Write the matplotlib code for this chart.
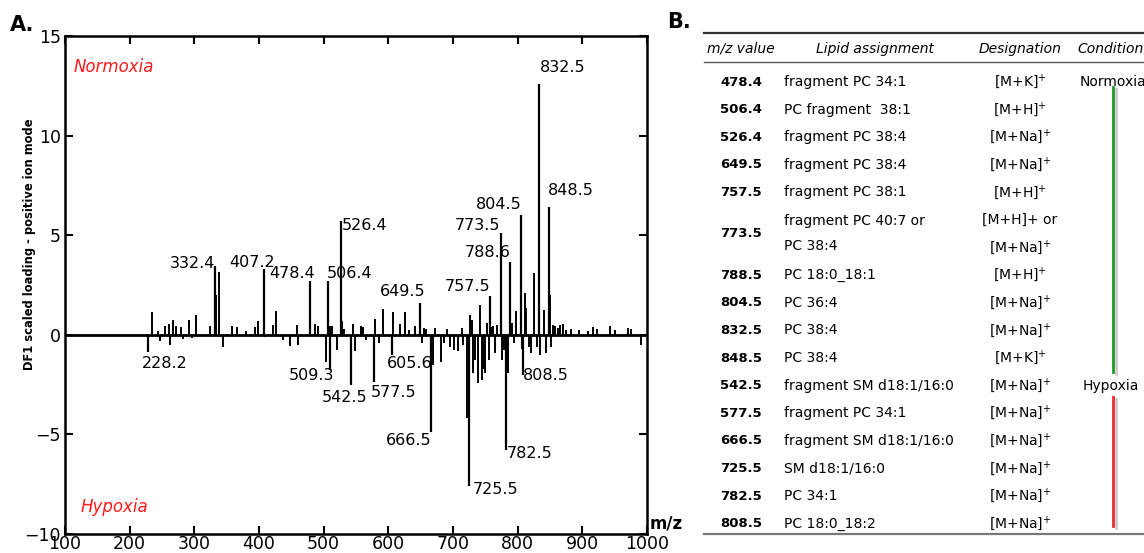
import numpy as np
import matplotlib
matplotlib.use('Agg')
import matplotlib.pyplot as plt

plt.rcParams['font.family'] = 'DejaVu Sans'

# labelled peaks (m/z, DF1 loading)
peak_mz = [332.4, 407.2, 478.4, 506.4, 526.4, 649.5, 757.5, 773.5, 788.6, 804.5, 832.5, 848.5,
           228.2, 509.3, 542.5, 577.5, 605.6, 666.5, 725.5, 782.5, 808.5]
peak_val = [3.45, 3.3, 2.7, 2.7, 5.7, 1.6, 1.95, 5.1, 3.65, 6.0, 12.6, 6.4,
            -0.85, -1.75, -2.5, -2.35, -1.0, -4.9, -7.6, -5.8, -2.0]

# unlabelled background peaks
minor_mz = [234, 244, 247, 254.6, 261, 262, 267, 271, 279, 283, 292, 296, 302, 324, 334, 338,
            344, 358, 366, 380, 394, 399, 410, 422, 426, 437, 448, 458.6, 461, 486, 491, 503,
            510.5, 513, 520, 528, 531, 545, 548, 557, 559,
            561, 566, 580, 586, 592, 607, 618, 625.5, 632, 642, 652, 655, 658, 669, 672, 681,
            686, 690, 696, 701, 707, 714.6, 716, 721, 727, 729, 731, 734, 738, 742.5, 745, 747,
            749, 752, 756, 759, 762, 765, 768, 776, 779, 785, 792, 794, 798, 806, 811, 813, 818,
            820, 826, 830, 834, 840, 844, 849.5, 851, 854, 857, 862, 866, 870, 875, 882, 895,
            908, 916, 923, 943, 950, 970, 976, 991]
minor_val = [1.12, 0.2, -0.3, 0.45, 0.55, -0.5, 0.75, 0.42, 0.37, -0.22, 0.75, -0.17, 1.0, 0.42, 2.0, 3.17,
             -0.62, 0.45, 0.37, 0.17, 0.38, 0.67, -0.1, 0.5, 1.17, -0.25, -0.55, 0.5, -0.5, 0.55, 0.45, -1.35,
             0.45, 0.42, -0.75, 0.67, 0.3, 0.55, -0.83, 0.45, 0.4,
             0.4, -0.25, 0.78, -0.4, 1.28, 1.15, 0.55, 1.15, 0.25, 0.45, -0.4, 0.33, 0.3, -1.5, 0.33, -1.35,
             -0.4, 0.3, -0.6, -0.75, -0.83, 0.33, -0.5, -4.2, 1.0, 0.75, -1.9, -1.25, -2.4, 1.5, -2.25, -1.7,
             -1.9, 0.6, -1.25, 0.4, 0.45, -0.9, 0.5, -1.25, -0.75, -1.9, 0.6, -0.4, 1.17, -0.7, 2.1, 1.33, -0.6,
             -0.9, 3.1, -0.6, -1.0, 1.25, -0.9, 2.0, -0.6, 0.5, 0.45, 0.35, 0.5, 0.55, 0.25, 0.3, 0.25,
             0.2, 0.38, 0.3, 0.45, 0.25, 0.33, 0.28, -0.5]

# label placement relative to peak tip, in pixels (dx, dy up), alignment
label_pos = {
    '332.4': (0, 3, 'right'), '407.2': (11, 7, 'right'), '478.4': (5, 8, 'right'),
    '506.4': (-1, 8, 'left'), '526.4': (1, -4, 'left'), '649.5': (5, 11, 'right'),
    '757.5': (0, 9, 'right'), '773.5': (0, 8, 'right'), '788.6': (0, 10, 'right'),
    '804.5': (1, 11, 'right'), '832.5': (1, 16, 'left'), '848.5': (-1, 17, 'left'),
    '228.2': (-6, -12, 'left'), '509.3': (5, -6, 'right'), '542.5': (16, -13, 'right'),
    '577.5': (-3, -11, 'left'), '605.6': (-5, -9, 'left'), '666.5': (0, -8, 'right'),
    '725.5': (3, -3, 'left'), '782.5': (0, -3, 'left'), '808.5': (0, -1, 'left'),
}

# table B
tab_mz = ['478.4', '506.4', '526.4', '649.5', '757.5', '773.5', '788.5', '804.5', '832.5',
          '848.5', '542.5', '577.5', '666.5', '725.5', '782.5', '808.5']
tab_lipid = ['fragment PC 34:1', 'PC fragment  38:1', 'fragment PC 38:4', 'fragment PC 38:4',
             'fragment PC 38:1', 'fragment PC 40:7 or\nPC 38:4', 'PC 18:0_18:1', 'PC 36:4',
             'PC 38:4', 'PC 38:4', 'fragment SM d18:1/16:0', 'fragment PC 34:1',
             'fragment SM d18:1/16:0', 'SM d18:1/16:0', 'PC 34:1', 'PC 18:0_18:2']
tab_desig = ['[M+K]$^{+}$', '[M+H]$^{+}$', '[M+Na]$^{+}$', '[M+Na]$^{+}$', '[M+H]$^{+}$',
             '[M+H]+ or\n[M+Na]$^{+}$', '[M+H]$^{+}$', '[M+Na]$^{+}$', '[M+Na]$^{+}$', '[M+K]$^{+}$',
             '[M+Na]$^{+}$', '[M+Na]$^{+}$', '[M+Na]$^{+}$', '[M+Na]$^{+}$', '[M+Na]$^{+}$', '[M+Na]$^{+}$']
tab_cond = ['Normoxia'] * 10 + ['Hypoxia'] * 6
tab_header = ['m/z value', 'Lipid assignment', 'Designation', 'Condition']

W, H = 1144, 553
fig = plt.figure(figsize=(W / 100, H / 100), dpi=100)
ax = fig.add_axes([65 / W, 1 - 534 / H, (647 - 65) / W, (534 - 36) / H])

ax.axhline(0, color='black', lw=2, zorder=3)
ax.vlines(minor_mz, 0, minor_val, color='black', lw=1.4)
ax.vlines(peak_mz, 0, peak_val, color='black', lw=1.6)

for m, v in zip(peak_mz, peak_val):
    lab = f'{m:.1f}'
    dx, dy, ha = label_pos[lab]
    ax.annotate(lab, (m, v), xytext=(dx * 0.72, dy * 0.72), textcoords='offset points',
                ha=ha, va='center', fontsize=11.5)

ax.set_xlim(100, 1000)
ax.set_ylim(-10, 15)
ax.set_xticks(np.arange(100, 1001, 100))
ax.set_yticks(np.arange(-10, 16, 5))
ax.tick_params(direction='in', top=True, right=True, length=6, width=1.5, labelsize=12.5)
ax.tick_params(axis='x', pad=1)
ax.tick_params(axis='y', pad=3)
for s in ax.spines.values():
    s.set_linewidth(1.8)

ax.text(0.014, 0.938, 'Normoxia', transform=ax.transAxes, color='#ff1a1a', style='italic',
        fontsize=12, va='center')
ax.text(0.026, 0.054, 'Hypoxia', transform=ax.transAxes, color='#ff1a1a', style='italic',
        fontsize=12, va='center')

fig.text(30 / W, 1 - 244 / H, 'DF1 scaled loading - positive ion mode', rotation=90,
         ha='center', va='center', fontsize=9.2, fontweight='bold', fontstretch='condensed',
         family=['Liberation Sans Narrow', 'DejaVu Sans'])
fig.text(650 / W, 1 - 523 / H, 'm/z', fontsize=12, fontweight='bold', va='center')
fig.text(10 / W, 1 - 25 / H, 'A.', fontsize=15, fontweight='bold', va='center')
fig.text(667 / W, 1 - 22 / H, 'B.', fontsize=15, fontweight='bold', va='center')

# table in pixel coordinates
tx = fig.add_axes([700 / W, 0, (W - 700) / W, 1])
tx.set_xlim(700, W)
tx.set_ylim(H, 0)
tx.axis('off')

tx.plot([704, W], [33, 33], color='#333333', lw=1.6, clip_on=False)
tx.plot([704, W], [62, 62], color='#555555', lw=1.0, clip_on=False)
tx.plot([704, W], [534, 534], color='#777777', lw=1.6, clip_on=False)

hx = [741, 875, 1020, 1077]
for i, h in enumerate(tab_header):
    tx.text(hx[i], 49, h, style='italic', fontsize=10, va='center',
            ha='left' if i == 3 else 'center', clip_on=False)

unit = 27.6
line = 0
cond_y = {}
for m, lip, des, cond in zip(tab_mz, tab_lipid, tab_desig, tab_cond):
    n = lip.count('\n') + 1
    yc = 82 + unit * (line + (n - 1) / 2)
    tx.text(762, yc, m, fontweight='bold', fontsize=9.5, ha='right', va='center')
    for k, part in enumerate(lip.split('\n')):
        tx.text(784, yc + (k - (n - 1) / 2) * 25, part, fontsize=10, ha='left', va='center')
    dparts = des.split('\n')
    for k, part in enumerate(dparts):
        tx.text(1020, yc + (k - (len(dparts) - 1) / 2) * 27, part, fontsize=10, ha='center', va='center')
    cond_y.setdefault(cond, []).append(yc)
    line += n

tx.text(1113, cond_y['Normoxia'][0], 'Normoxia', fontsize=10, ha='center', va='center', clip_on=False)
tx.text(1111, cond_y['Hypoxia'][0], 'Hypoxia', fontsize=10, ha='center', va='center')
tx.plot([1116, 1116], [89, 374], color='#cccccc', lw=2)
tx.plot([1113, 1113], [87, 372], color='#1e9a2a', lw=2)
tx.plot([1116, 1116], [399, 528], color='#cccccc', lw=2)
tx.plot([1113, 1113], [397, 526], color='#ee2a2a', lw=2)

fig.savefig('out.png', dpi=100)
